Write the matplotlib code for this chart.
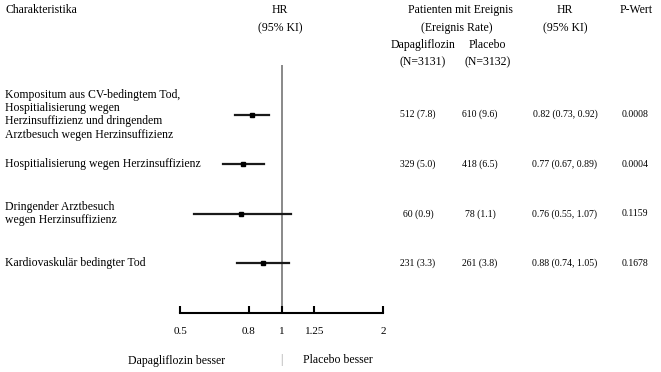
import numpy as np
import matplotlib.pyplot as plt
from matplotlib.transforms import blended_transform_factory

plt.rcParams['font.family'] = ['Liberation Serif', 'DejaVu Serif']

# Daten
labels = ["Kompositum aus CV-bedingtem Tod,\nHospitialisierung wegen\nHerzinsuffizienz und dringendem\nArztbesuch wegen Herzinsuffizienz",
          "Hospitialisierung wegen Herzinsuffizienz",
          "Dringender Arztbesuch\nwegen Herzinsuffizienz",
          "Kardiovaskulär bedingter Tod"]
hr = [0.82, 0.77, 0.76, 0.88]
ci_lo = [0.73, 0.67, 0.55, 0.74]
ci_hi = [0.92, 0.89, 1.07, 1.05]
dapa = ["512 (7.8)", "329 (5.0)", "60 (0.9)", "231 (3.3)"]
placebo = ["610 (9.6)", "418 (6.5)", "78 (1.1)", "261 (3.8)"]
pwert = ["0.0008", "0.0004", "0.1159", "0.1678"]
ticks = [0.5, 0.8, 1, 1.25, 2]
tick_labels = ["0.5", "0.8", "1", "1.25", "2"]

W, H = 661, 372
fig = plt.figure(figsize=(W / 100, H / 100), dpi=100)

# Forest-Achse: x=0.5 bei 180px, x=2 bei 383px; y von 65px bis 313px
ax = fig.add_axes([180 / W, (H - 313) / H, (383 - 180) / W, (313 - 65) / H])
ax.set_xscale('log')
ax.set_xlim(0.5, 2)
ax.set_ylim(5, 0)
ax.patch.set_alpha(0)
for s in ['top', 'right', 'left']:
    ax.spines[s].set_visible(False)
ax.spines['bottom'].set_linewidth(1.5)
ax.set_yticks([])
ax.set_xticks(ticks)
ax.set_xticklabels(tick_labels, fontsize=8)
ax.xaxis.set_minor_locator(plt.NullLocator())
ax.tick_params(axis='x', direction='in', length=5, width=1.5, pad=10)
ax.axvline(1, color='#808080', linewidth=1.3, zorder=1)

rows = np.arange(1, len(hr) + 1)
for y, m, lo, hi in zip(rows, hr, ci_lo, ci_hi):
    ax.plot([lo, hi], [y, y], color='#1a1a1a', linewidth=1.6, zorder=2)
    ax.plot(m, y, marker='s', color='black', markersize=3.5, zorder=3)

# Textspalten
tr = blended_transform_factory(fig.transFigure, ax.transData)
for y, lab, d, p, h, lo, hi, pv in zip(rows, labels, dapa, placebo, hr, ci_lo, ci_hi, pwert):
    ax.text(5 / W, y, lab, transform=tr, ha='left', va='center', fontsize=8.5, linespacing=1.15)
    ax.text(418 / W, y, d, transform=tr, ha='center', va='center', fontsize=7)
    ax.text(480 / W, y, p, transform=tr, ha='center', va='center', fontsize=7)
    ax.text(565 / W, y, f"{h:.2f} ({lo:.2f}, {hi:.2f})", transform=tr, ha='center', va='center', fontsize=7)
    ax.text(635 / W, y, pv, transform=tr, ha='center', va='center', fontsize=7)

def ftext(x, y, s, **kw):
    fig.text(x / W, 1 - y / H, s, va='center', fontsize=8.5, **kw)

ftext(5, 10, "Charakteristika", ha='left')
ftext(280, 10, "HR", ha='center')
ftext(280, 28, "(95% KI)", ha='center')
ftext(460, 10, "Patienten mit Ereignis", ha='center')
ftext(457, 28, "(Ereignis Rate)", ha='center')
ftext(423, 45, "Dapagliflozin", ha='center')
ftext(423, 62, "(N=3131)", ha='center')
ftext(487, 45, "Placebo", ha='center')
ftext(488, 62, "(N=3132)", ha='center')
ftext(565, 10, "HR", ha='center')
ftext(565, 28, "(95% KI)", ha='center')
ftext(636, 10, "P-Wert", ha='center')

ftext(177, 361, "Dapagliflozin besser", ha='center')
ftext(281, 360, "|", ha='center', color='#a0a0a0')
ftext(338, 360, "Placebo besser", ha='center')

fig.savefig("out.png", dpi=100)
